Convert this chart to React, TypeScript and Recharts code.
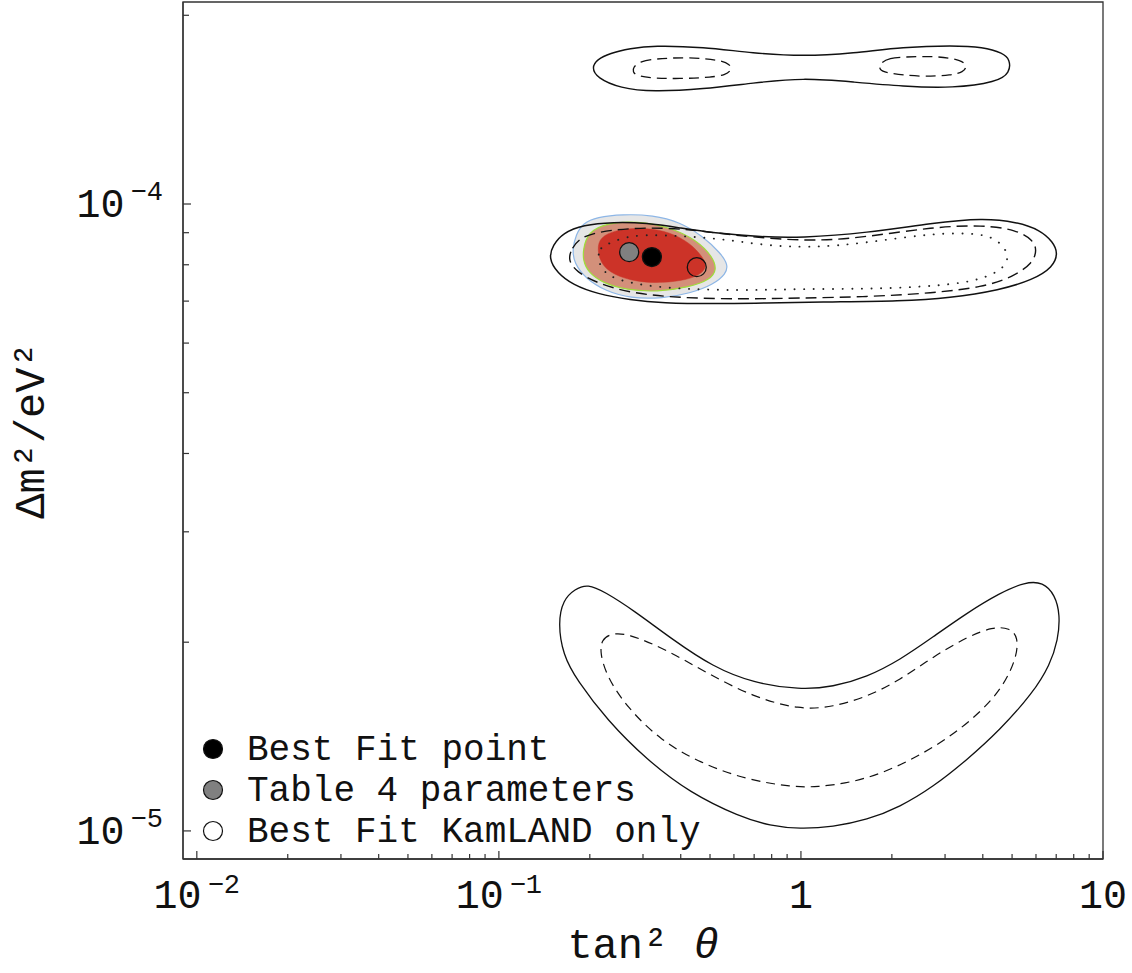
import React from 'react';
import { ScatterChart, Scatter, XAxis, YAxis, ReferenceArea, Legend } from 'recharts';

type P = [number, number];

// ---- contour data: [tan^2 theta, Delta m^2 (eV^2)] ----
const topSolid: P[] = [
  [0.203, 1.65e-4], [0.211, 1.70e-4], [0.233, 1.74e-4], [0.272, 1.77e-4], [0.324, 1.79e-4],
  [0.474, 1.78e-4], [0.694, 1.74e-4], [1.02, 1.72e-4], [1.49, 1.74e-4], [2.18, 1.78e-4],
  [3.19, 1.79e-4], [4.01, 1.78e-4], [4.67, 1.74e-4], [4.92, 1.70e-4], [4.92, 1.62e-4],
  [4.46, 1.565e-4], [3.19, 1.53e-4], [2.18, 1.54e-4], [1.49, 1.565e-4], [1.02, 1.59e-4],
  [0.694, 1.56e-4], [0.474, 1.525e-4], [0.324, 1.51e-4], [0.252, 1.53e-4], [0.211, 1.59e-4],
];
const topDashedLeft: P[] = [
  [0.278, 1.653e-4], [0.295, 1.69e-4], [0.324, 1.703e-4], [0.419, 1.716e-4], [0.539, 1.697e-4],
  [0.582, 1.672e-4], [0.591, 1.635e-4], [0.56, 1.606e-4], [0.511, 1.594e-4], [0.398, 1.583e-4],
  [0.309, 1.589e-4], [0.284, 1.606e-4], [0.278, 1.624e-4],
];
const topDashedRight: P[] = [
  [1.826, 1.679e-4], [1.971, 1.71e-4], [2.177, 1.716e-4], [2.82, 1.722e-4], [3.44, 1.697e-4],
  [3.545, 1.653e-4], [3.44, 1.624e-4], [3.187, 1.606e-4], [2.477, 1.594e-4], [1.927, 1.618e-4],
  [1.813, 1.635e-4],
];
const midSolid: P[] = [
  [0.146, 8.2e-5], [0.151, 8.6e-5], [0.163, 8.99e-5], [0.19, 9.26e-5], [0.2385, 9.36e-5],
  [0.309, 9.33e-5], [0.3975, 9.16e-5], [0.511, 8.99e-5], [0.748, 8.86e-5], [0.992, 8.83e-5],
  [1.654, 8.99e-5], [2.736, 9.33e-5], [4.006, 9.5e-5], [5.19, 9.36e-5], [6.185, 9.09e-5],
  [6.83, 8.7e-5], [7.1, 8.35e-5], [6.83, 7.93e-5], [5.86, 7.57e-5], [4.56, 7.29e-5],
  [3.114, 7.08e-5], [2.127, 7.0e-5], [1.276, 6.98e-5], [0.748, 6.95e-5], [0.511, 6.93e-5],
  [0.349, 6.95e-5], [0.272, 7.03e-5], [0.211, 7.19e-5], [0.176, 7.43e-5], [0.156, 7.76e-5],
];
const midDashed: P[] = [
  [0.169, 8.14e-5], [0.1745, 8.51e-5], [0.1855, 8.83e-5], [0.211, 9.02e-5], [0.272, 9.16e-5],
  [0.3975, 9.16e-5], [0.582, 8.92e-5], [1.071, 8.7e-5], [1.654, 8.86e-5], [2.736, 9.19e-5],
  [4.006, 9.26e-5], [5.19, 9.09e-5], [5.86, 8.76e-5], [6.045, 8.45e-5], [5.86, 8.05e-5],
  [5.035, 7.65e-5], [4.006, 7.37e-5], [2.736, 7.21e-5], [1.654, 7.11e-5], [0.992, 7.08e-5],
  [0.6625, 7.05e-5], [0.3975, 7.08e-5], [0.272, 7.21e-5], [0.211, 7.48e-5], [0.181, 7.79e-5],
];
const midDotted: P[] = [
  [0.213, 8.29e-5], [0.216, 8.51e-5], [0.233, 8.67e-5], [0.272, 8.92e-5], [0.349, 8.92e-5],
  [0.452, 8.86e-5], [0.582, 8.76e-5], [0.748, 8.6e-5], [1.071, 8.51e-5], [1.654, 8.67e-5],
  [2.736, 8.99e-5], [4.006, 8.99e-5], [4.56, 8.7e-5], [4.85, 8.35e-5], [4.81, 8.0e-5],
  [4.32, 7.71e-5], [3.545, 7.48e-5], [2.422, 7.37e-5], [1.654, 7.32e-5], [0.992, 7.32e-5],
  [0.748, 7.29e-5], [0.511, 7.29e-5], [0.349, 7.35e-5], [0.272, 7.48e-5], [0.233, 7.65e-5],
  [0.216, 7.93e-5],
];
const regionOuter: P[] = [
  [0.175, 8.45e-5], [0.18, 8.95e-5], [0.19, 9.32e-5], [0.211, 9.53e-5], [0.257, 9.63e-5],
  [0.3235, 9.6e-5], [0.3975, 9.36e-5], [0.474, 8.88e-5], [0.542, 8.35e-5], [0.574, 8.0e-5],
  [0.565, 7.74e-5], [0.513, 7.44e-5], [0.429, 7.2e-5], [0.349, 7.07e-5], [0.272, 7.07e-5],
  [0.226, 7.26e-5], [0.194, 7.6e-5], [0.1775, 8.05e-5],
];
const regionMiddle: P[] = [
  [0.19, 8.45e-5], [0.197, 9.02e-5], [0.228, 9.33e-5], [0.286, 9.39e-5], [0.368, 9.19e-5],
  [0.452, 8.76e-5], [0.511, 8.23e-5], [0.527, 7.85e-5], [0.5, 7.57e-5], [0.429, 7.37e-5],
  [0.334, 7.24e-5], [0.265, 7.29e-5], [0.221, 7.48e-5], [0.197, 7.79e-5], [0.19, 8.14e-5],
];
const regionInner: P[] = [
  [0.211, 8.6e-5], [0.221, 8.92e-5], [0.252, 9.12e-5], [0.309, 9.16e-5], [0.368, 9.02e-5],
  [0.429, 8.67e-5], [0.474, 8.23e-5], [0.488, 7.93e-5], [0.463, 7.71e-5], [0.419, 7.57e-5],
  [0.349, 7.48e-5], [0.286, 7.51e-5], [0.2385, 7.71e-5], [0.216, 8.05e-5],
];
const lowSolid: P[] = [
  [0.157, 2.147e-5], [0.163, 2.336e-5], [0.1785, 2.432e-5], [0.197, 2.477e-5], [0.224, 2.406e-5],
  [0.278, 2.252e-5], [0.377, 2.017e-5], [0.511, 1.827e-5], [0.694, 1.722e-5], [0.992, 1.679e-5],
  [1.276, 1.697e-5], [1.654, 1.76e-5], [2.127, 1.874e-5], [2.736, 2.039e-5], [3.545, 2.227e-5],
  [4.56, 2.397e-5], [5.52, 2.495e-5], [6.33, 2.495e-5], [6.94, 2.379e-5], [7.21, 2.211e-5],
  [7.1, 2.017e-5], [6.675, 1.84e-5], [5.86, 1.66e-5], [4.56, 1.449e-5], [3.545, 1.298e-5],
  [2.736, 1.175e-5], [2.127, 1.092e-5], [1.654, 1.041e-5], [1.276, 1.015e-5], [0.992, 1.007e-5],
  [0.79, 1.019e-5], [0.628, 1.053e-5], [0.429, 1.15e-5], [0.309, 1.298e-5], [0.228, 1.503e-5],
  [0.181, 1.741e-5], [0.163, 1.909e-5],
];
const lowDashed: P[] = [
  [0.216, 1.922e-5], [0.219, 2.017e-5], [0.233, 2.062e-5], [0.265, 2.07e-5], [0.36, 1.944e-5],
  [0.488, 1.786e-5], [0.694, 1.636e-5], [0.992, 1.56e-5], [1.276, 1.577e-5], [1.654, 1.636e-5],
  [2.127, 1.741e-5], [2.736, 1.895e-5], [3.545, 2.039e-5], [4.32, 2.116e-5], [4.92, 2.108e-5],
  [5.23, 2.039e-5], [5.19, 1.895e-5], [4.67, 1.697e-5], [3.914, 1.543e-5], [3.114, 1.412e-5],
  [2.422, 1.312e-5], [1.868, 1.237e-5], [1.453, 1.193e-5], [1.13, 1.175e-5], [0.941, 1.175e-5],
  [0.6625, 1.206e-5], [0.463, 1.284e-5], [0.341, 1.397e-5], [0.265, 1.577e-5], [0.228, 1.76e-5],
];

// ---- marked points ----
const bestFit: P[] = [[0.321, 8.23e-5]];
const table4: P[] = [[0.27, 8.38e-5]];
const kamlandOnly: P[] = [[0.452, 7.93e-5]];

const legendLabels = ['Best Fit point', 'Table 4 parameters', 'Best Fit KamLAND only'];
const legendFills = ['#000000', '#808080', '#ffffff'];

// ---- axes ----
const xDomain: P = [0.009, 10];
const yDomain: P = [9.02e-6, 2.1e-4];
const xTicks = [
  0.01, 0.02, 0.03, 0.04, 0.05, 0.06, 0.07, 0.08, 0.09,
  0.1, 0.2, 0.3, 0.4, 0.5, 0.6, 0.7, 0.8, 0.9,
  1, 2, 3, 4, 5, 6, 7, 8, 9, 10,
];
const xMajor = [0.01, 0.1, 1, 10];
const xMajorBase = ['10', '10', '1', '10'];
const xMajorExp = ['−2', '−1', '', ''];
const yTicks = [1e-5, 2e-5, 3e-5, 4e-5, 5e-5, 6e-5, 7e-5, 8e-5, 9e-5, 1e-4, 2e-4];
const yMajor = [1e-5, 1e-4];
const yMajorBase = ['10', '10'];
const yMajorExp = ['−5', '−4'];

const FONT = '"Liberation Mono", "Courier New", monospace';

const rows = (pts: P[]) => pts.map(([x, y]) => ({ x, y }));
const majorIndex = (list: number[], v: number) => list.findIndex((t) => Math.abs(t - v) / t < 1e-6);

const XTick = (props: any) => {
  const { x, y, payload } = props;
  const i = majorIndex(xMajor, payload.value);
  const len = i >= 0 ? 8 : 5;
  return (
    <g>
      <line x1={x} y1={y} x2={x} y2={y - len} stroke="#333" strokeWidth={1.2} />
      {i >= 0 && (
        <text x={x} y={y + 49} textAnchor="middle" fontFamily={FONT} fontSize={40} fill="#111">
          <tspan>{xMajorBase[i]}</tspan>
          {xMajorExp[i] && <tspan fontSize={27} dx={6} dy={-15}>{xMajorExp[i]}</tspan>}
        </text>
      )}
    </g>
  );
};

const YTick = (props: any) => {
  const { x, y, payload } = props;
  const i = majorIndex(yMajor, payload.value);
  const len = i >= 0 ? 8 : 6;
  return (
    <g>
      <line x1={x} y1={y} x2={x + len} y2={y} stroke="#333" strokeWidth={1.2} />
      {i >= 0 && (
        <text x={x - 20} y={y + 13} textAnchor="end" fontFamily={FONT} fontSize={40} fill="#111">
          <tspan>{yMajorBase[i]}</tspan>
          <tspan fontSize={27} dx={6} dy={-17}>{yMajorExp[i]}</tspan>
        </text>
      )}
    </g>
  );
};

const XTitle = (props: any) => {
  const vb = props.viewBox || { x: 183, width: 920, y: 859, height: 114 };
  return (
    <text x={vb.x + vb.width / 2} y={958} textAnchor="middle" fontFamily={FONT} fontSize={42} fill="#111">
      <tspan>tan² </tspan>
      <tspan fontStyle="italic">θ</tspan>
    </text>
  );
};

const YTitle = (props: any) => {
  const vb = props.viewBox || { y: 2, height: 857 };
  const cy = vb.y + vb.height / 2;
  return (
    <text x={44} y={cy} transform={`rotate(-90, 44, ${cy})`} textAnchor="middle" fontFamily={FONT} fontSize={42} fill="#111">
      Δm²/eV²
    </text>
  );
};

const LegendBox = () => (
  <svg width={540} height={135} style={{ display: 'block', overflow: 'visible' }}>
    {legendLabels.map((label, i) => {
      const cy = 19 + i * 41;
      return (
        <g key={label}>
          <circle cx={23} cy={cy} r={9.5} fill={legendFills[i]} stroke="#111" strokeWidth={1.2} />
          <text x={57} y={cy + 10.5} fontFamily={FONT} fontSize={36} fill="#111">{label}</text>
        </g>
      );
    })}
  </svg>
);

const hidden = () => <g />;

const contour = (key: string, pts: P[], stroke: string, dash?: string, fill = 'none', width = 1.4, cap = 'butt') => (
  <Scatter
    key={key}
    name={key}
    data={rows(pts)}
    isAnimationActive={false}
    shape={hidden}
    legendType="none"
    lineType="joint"
    lineJointType="basisClosed"
    line={{ stroke, strokeWidth: width, strokeDasharray: dash, fill, strokeLinecap: cap } as any}
  />
);

const marker = (key: string, pts: P[], fill: string) => (
  <Scatter
    key={key}
    name={key}
    data={rows(pts)}
    isAnimationActive={false}
    legendType="none"
    shape={(p: any) => <circle cx={p.cx} cy={p.cy} r={9.5} fill={fill} stroke="#111" strokeWidth={1.3} />}
  />
);

export default function App() {
  return (
    <div style={{ position: 'absolute', left: 0, top: 0, width: 1132, height: 973, background: '#fff' }}>
      <ScatterChart width={1132} height={973} margin={{ top: 2, right: 29, bottom: 0, left: 0 }}>
        <XAxis
          type="number"
          dataKey="x"
          scale="log"
          domain={xDomain}
          allowDataOverflow
          ticks={xTicks}
          interval={0}
          tick={<XTick />}
          tickLine={false}
          tickSize={0}
          tickMargin={0}
          height={114}
          axisLine={{ stroke: '#333', strokeWidth: 1.3 }}
          label={XTitle}
        />
        <YAxis
          type="number"
          dataKey="y"
          scale="log"
          domain={yDomain}
          allowDataOverflow
          ticks={yTicks}
          interval={0}
          tick={<YTick />}
          tickLine={false}
          tickSize={0}
          tickMargin={0}
          width={183}
          axisLine={{ stroke: '#333', strokeWidth: 1.3 }}
          label={YTitle}
        />
        <ReferenceArea x1={xDomain[0]} x2={xDomain[1]} y1={yDomain[0]} y2={yDomain[1]} fill="none" stroke="#333" strokeWidth={1.3} />
        {contour('regionOuter', regionOuter, '#8db6e6', undefined, '#e6e6e6', 1.2)}
        {contour('regionMiddle', regionMiddle, '#9fdc3c', undefined, '#d3907a', 1.2)}
        {contour('regionInner', regionInner, '#cc3328', undefined, '#cc3328', 0.5)}
        {contour('midDotted', midDotted, '#222', '0.1 9.5', 'none', 1.9, 'round')}
        {contour('midDashed', midDashed, '#111', '11 6', 'none', 1.4)}
        {contour('midSolid', midSolid, '#111', undefined, 'none', 1.5)}
        {contour('topDashedLeft', topDashedLeft, '#111', '10 6', 'none', 1.3)}
        {contour('topDashedRight', topDashedRight, '#111', '10 6', 'none', 1.3)}
        {contour('topSolid', topSolid, '#111', undefined, 'none', 1.4)}
        {contour('lowDashed', lowDashed, '#111', '9 6', 'none', 1.2)}
        {contour('lowSolid', lowSolid, '#111', undefined, 'none', 1.3)}
        {marker('table4', table4, '#808080')}
        {marker('bestFit', bestFit, '#000000')}
        {marker('kamlandOnly', kamlandOnly, 'none')}
        <Legend
          layout="horizontal"
          verticalAlign="middle"
          align="center"
          content={LegendBox}
          wrapperStyle={{ left: 190, top: 730, width: 540, height: 135 }}
        />
      </ScatterChart>
    </div>
  );
}
